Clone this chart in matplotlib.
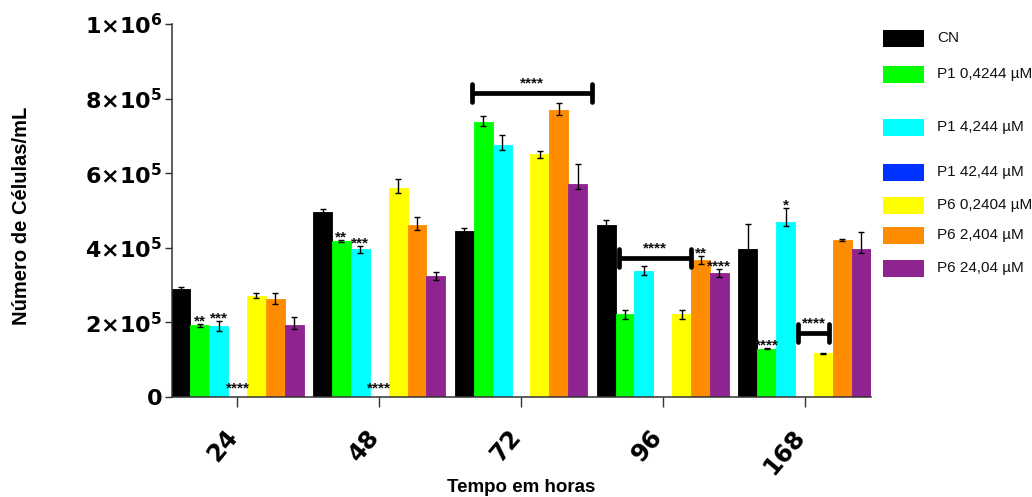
import numpy as np
import matplotlib
matplotlib.use("Agg")
import matplotlib.pyplot as plt
from matplotlib.transforms import ScaledTranslation

# ---- data -------------------------------------------------------------
time_labels = ["24", "48", "72", "96", "168"]
series_names = ["CN", "P1 0,4244 µM", "P1 4,244 µM", "P1 42,44 µM",
                "P6 0,2404 µM", "P6 2,404 µM", "P6 24,04 µM"]
series_colors = ["#000000", "#00FF00", "#00FFFF", "#0033FF",
                 "#FFFF00", "#FF8C00", "#8F2390"]

cn      = [290e3, 495e3, 445e3, 460e3, 397e3]
p1_04   = [192e3, 418e3, 738e3, 222e3, 130e3]
p1_4    = [190e3, 396e3, 675e3, 338e3, 470e3]
p1_42   = [0, 0, 0, 0, 0]
p6_02   = [272e3, 560e3, 651e3, 222e3, 117e3]
p6_2    = [262e3, 461e3, 769e3, 367e3, 421e3]
p6_24   = [193e3, 325e3, 570e3, 333e3, 397e3]

cn_err    = [5e3, 8e3, 7e3, 15e3, 68e3]
p1_04_err = [4e3, 3e3, 15e3, 12e3, 2e3]
p1_4_err  = [13e3, 9e3, 27e3, 13e3, 36e3]
p1_42_err = [0, 0, 0, 0, 0]
p6_02_err = [6e3, 24e3, 9e3, 12e3, 2e3]
p6_2_err  = [16e3, 22e3, 18e3, 11e3, 2e3]
p6_24_err = [21e3, 11e3, 54e3, 11e3, 46e3]

values = [cn, p1_04, p1_4, p1_42, p6_02, p6_2, p6_24]
errors = [cn_err, p1_04_err, p1_4_err, p1_42_err, p6_02_err, p6_2_err, p6_24_err]

# significance marks above single bars: (time index, series index, label)
bar_marks = [(0, 1, "**"), (0, 2, "***"), (0, 3, "****"),
             (1, 1, "**"), (1, 2, "***"), (1, 3, "****"),
             (3, 5, "**"), (3, 6, "****"),
             (4, 1, "****"), (4, 2, "*")]

# bracket comparisons: (x start, x end, level, label)
brackets = [(1.652, 2.499, 816e3, "****"),
            (2.688, 3.199, 372e3, "****"),
            (3.951, 4.176, 171e3, "****")]

y_ticks = [0, 2e5, 4e5, 6e5, 8e5, 1e6]
y_tick_labels = ["0",
                 r"$\mathbf{2{\times}10^{5}}$",
                 r"$\mathbf{4{\times}10^{5}}$",
                 r"$\mathbf{6{\times}10^{5}}$",
                 r"$\mathbf{8{\times}10^{5}}$",
                 r"$\mathbf{1{\times}10^{6}}$"]

# ---- figure -----------------------------------------------------------
plt.rcParams["mathtext.fontset"] = "dejavusans"
W, H = 1032, 497
fig = plt.figure(figsize=(W / 100, H / 100), dpi=100)
ax = fig.add_axes([172 / W, 100 / H, 699 / W, 373 / H])

n_series = len(values)
bar_w = 0.1333
x_base = np.arange(len(time_labels))

for i, (vals, errs, col) in enumerate(zip(values, errors, series_colors)):
    xs = x_base + (i - (n_series - 1) / 2) * bar_w
    ax.bar(xs, vals, bar_w, color=col, edgecolor=col, linewidth=0.6,
           joinstyle="round", zorder=2)
    errs = np.asarray(errs, dtype=float)
    if errs.any():
        lower = np.minimum(errs, 12e3)
        ax.errorbar(xs, vals, yerr=[lower, errs], fmt="none", ecolor="black",
                    elinewidth=1.0, capsize=2.5, capthick=1.0, zorder=3)

star_font = dict(fontsize=11, family="Liberation Sans", fontweight="bold",
                 color="#111111")

for g, s, lab in bar_marks:
    x = g + (s - (n_series - 1) / 2) * bar_w
    top = values[s][g] + errors[s][g]
    lift = -1 if top > 0 else 3
    ax.annotate(lab, (x, top), xytext=(0, lift), textcoords="offset points",
                ha="center", va="baseline", zorder=4, **star_font)

cap_half = 24e3
for x0, x1, lvl, lab in brackets:
    ax.plot([x0, x1], [lvl, lvl], color="black", lw=3.4,
            solid_capstyle="butt", zorder=4)
    for xx in (x0, x1):
        ax.plot([xx, xx], [lvl - cap_half, lvl + cap_half], color="black",
                lw=3.4, solid_capstyle="round", zorder=4)
    ax.annotate(lab, ((x0 + x1) / 2, lvl), xytext=(0, 4),
                textcoords="offset points", ha="center", va="baseline",
                zorder=4, **star_font)

# axes styling
ax.set_xlim(-0.462, 4.469)
ax.set_ylim(0, 1e6)
for side in ("top", "right"):
    ax.spines[side].set_visible(False)
for side in ("left", "bottom"):
    ax.spines[side].set_color("#333333")
    ax.spines[side].set_linewidth(1.1)

ax.set_yticks(y_ticks)
ax.set_yticklabels(y_tick_labels)
ax.tick_params(axis="y", length=5, width=1.0, color="#333333", pad=2,
               labelsize=16)
for t in ax.get_yticklabels():
    t.set_fontfamily("DejaVu Sans")
    t.set_fontweight("bold")

ax.set_xticks(x_base)
ax.set_xticklabels(time_labels, rotation=50, ha="right", va="top",
                   fontsize=17.5, fontweight="bold", family="DejaVu Sans")
ax.tick_params(axis="x", length=7, width=1.0, color="#333333", pad=13)
shift = ScaledTranslation(5 / 100, 0, fig.dpi_scale_trans)
for t in ax.get_xticklabels():
    t.set_transform(t.get_transform() + shift)

fig.text(521.5 / W, 1 - 487 / H, "Tempo em horas", ha="center", va="center",
         fontsize=13.5, fontweight="bold", family="Liberation Sans")
fig.text(22 / W, 1 - 216 / H, "Número de Células/mL", ha="center",
         va="center", rotation=90, fontsize=14.5, fontweight="bold",
         family="Liberation Sans")

# legend, drawn entry by entry
legend_rows = [38, 74, 127, 172, 205, 235, 268]
for name, col, yc in zip(series_names, series_colors, legend_rows):
    fig.patches.append(plt.Rectangle((883 / W, 1 - (yc + 8.5) / H),
                                     41 / W, 17 / H, facecolor=col,
                                     edgecolor="none",
                                     transform=fig.transFigure, figure=fig))
    fig.text(937 / W, 1 - yc / H, name, ha="left", va="center",
             fontsize=11, family="Liberation Sans", color="#111111")

fig.savefig("out.png", dpi=100)
